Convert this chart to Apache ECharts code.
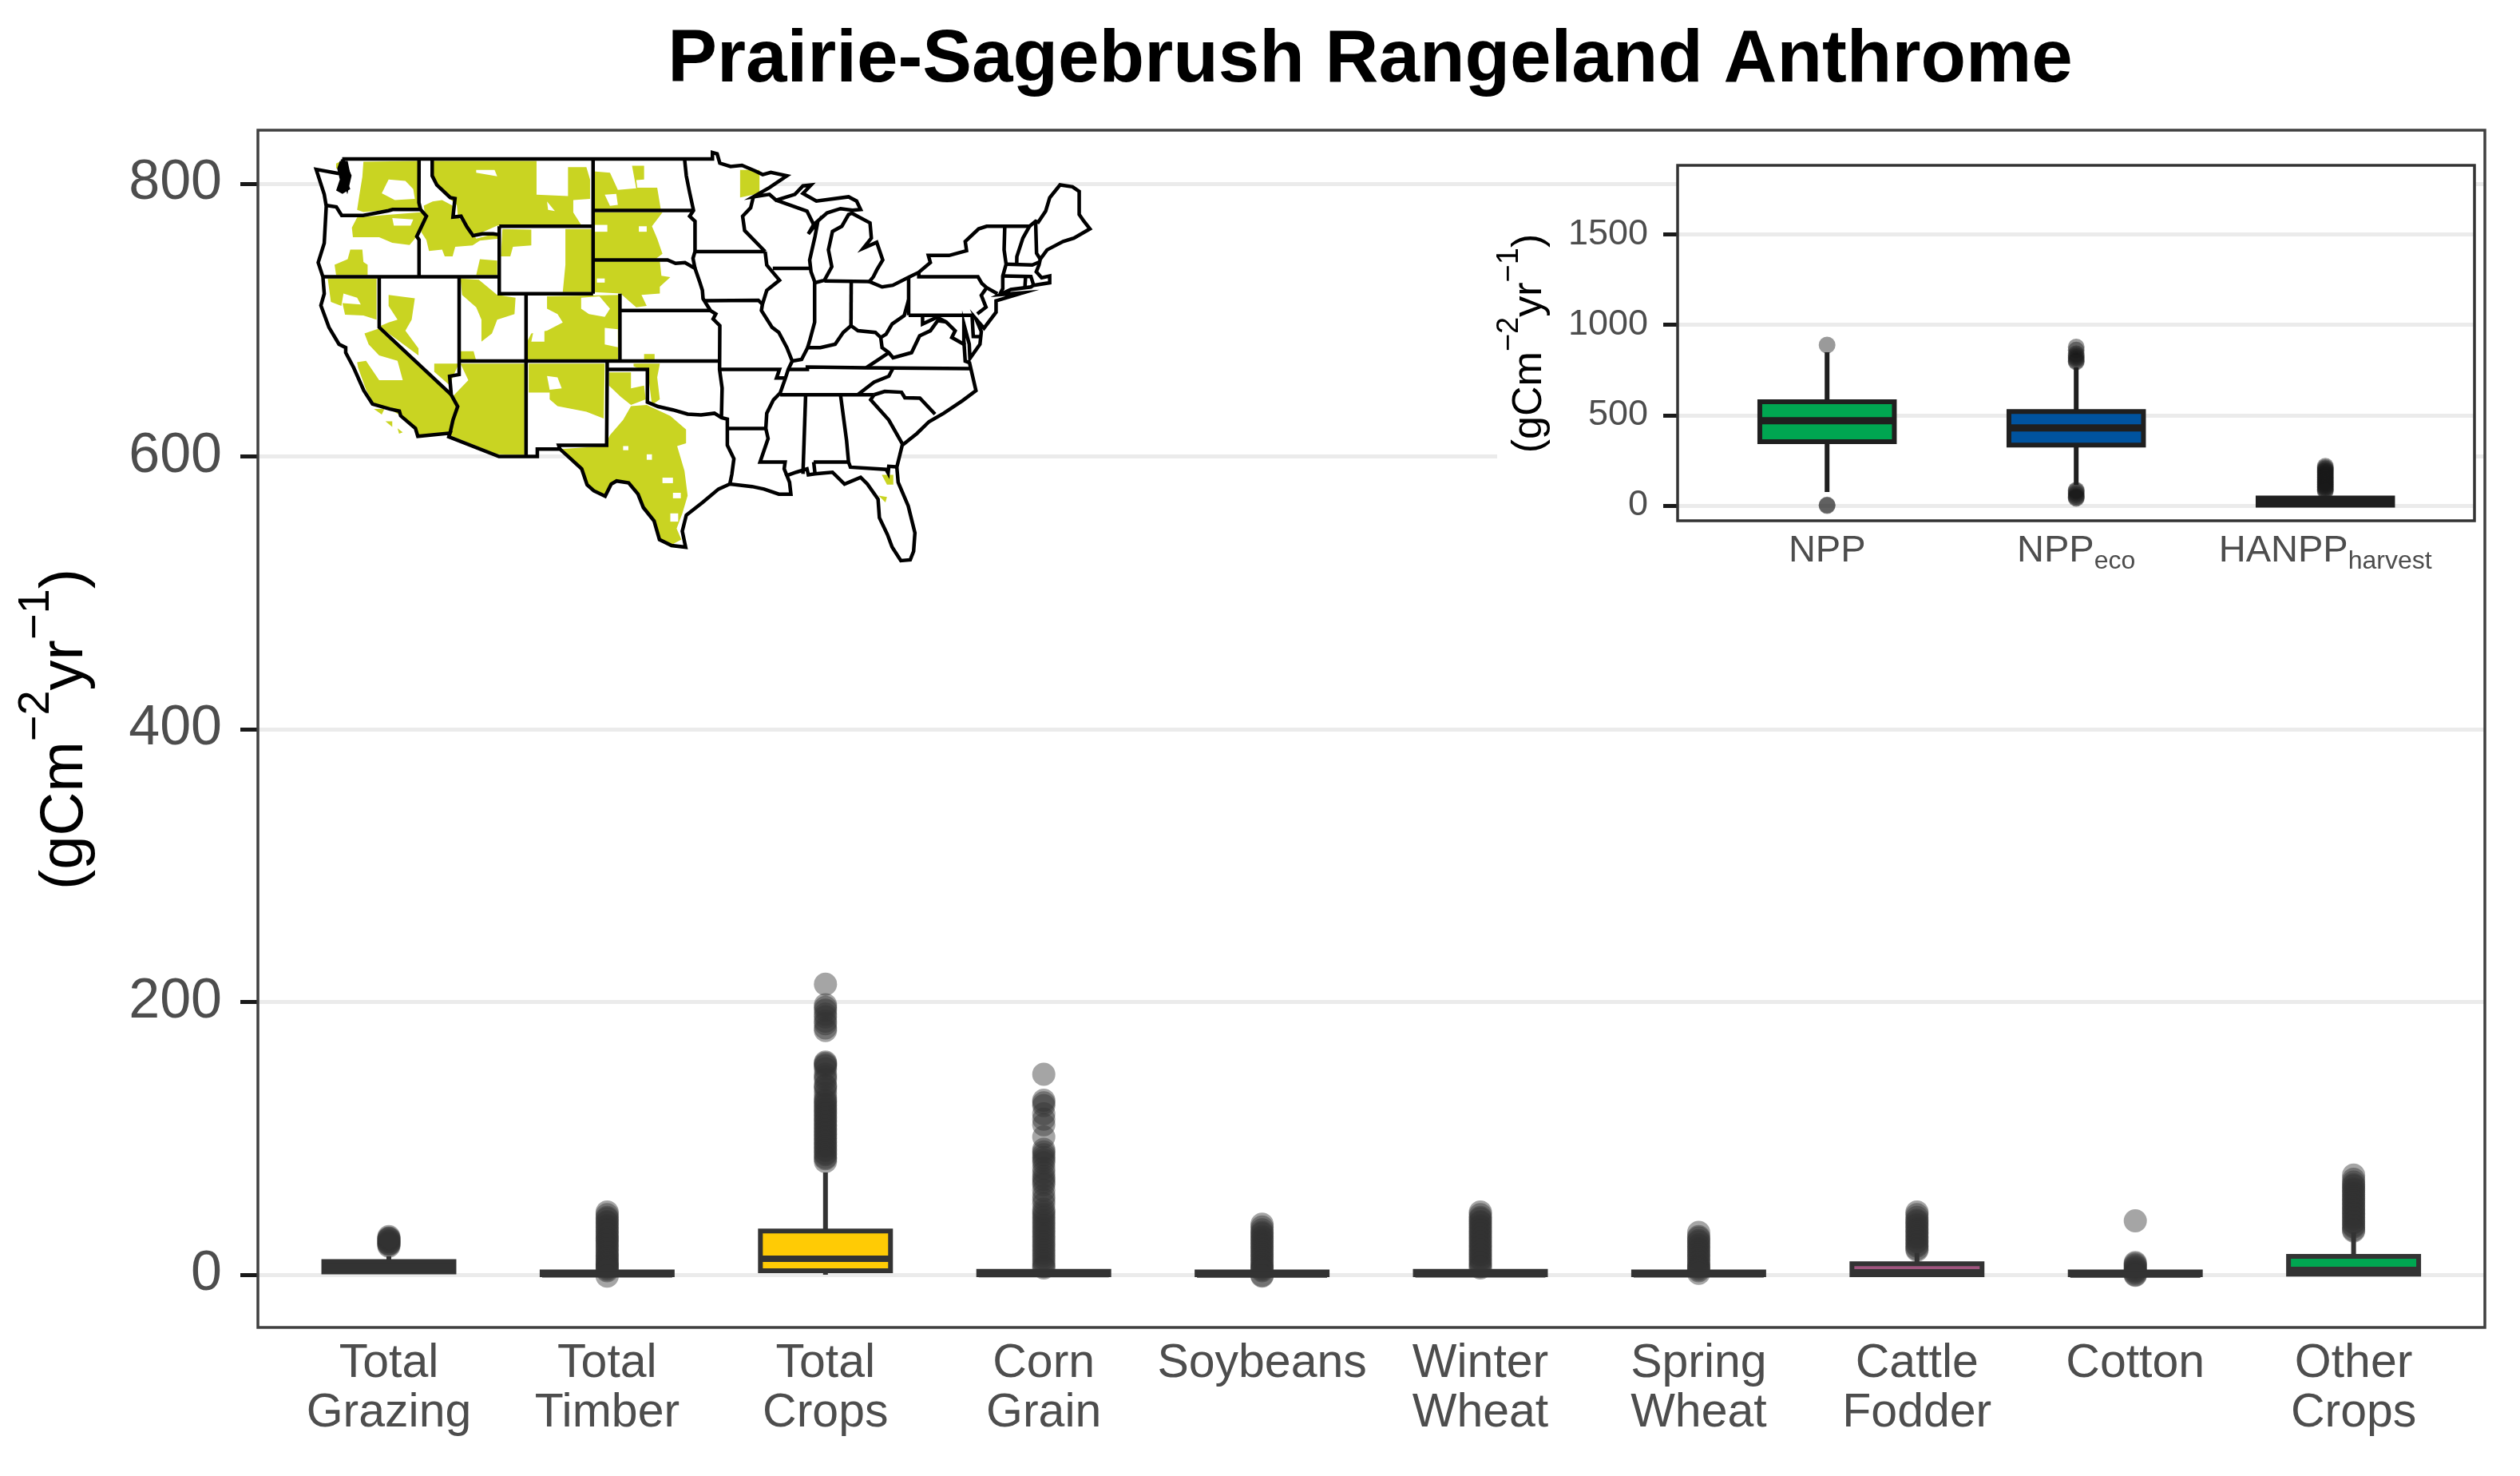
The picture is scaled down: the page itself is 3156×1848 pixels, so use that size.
<!DOCTYPE html>
<html>
<head>
<meta charset="utf-8">
<script src="https://cdn.jsdelivr.net/npm/echarts@6/dist/echarts.min.js"></script>
<style>
	html, body { margin: 0; padding: 0; background: #fff; }
	#chart { width: 3156px; height: 1848px; }
</style>
</head>
<body>
<div id="chart"></div>
<script>
var titleText = 'Prairie-Sagebrush Rangeland Anthrome';
var fontName = '"Liberation Sans", Arial, sans-serif';

// main panel
var categories = ['Total\nGrazing', 'Total\nTimber', 'Total\nCrops', 'Corn\nGrain', 'Soybeans', 'Winter\nWheat', 'Spring\nWheat', 'Cattle\nFodder', 'Cotton', 'Other\nCrops'];
// min, q1, median, q3, max
var boxStats = [
	[2, 2, 6, 9.7, 13.5],
	[0, 0, 0.3, 2, 3],
	[0, 3, 11.7, 32, 75],
	[0, 0, 0.5, 2.5, 4],
	[0, 0, 0.2, 2, 2.5],
	[0, 0, 0.3, 2.5, 3.5],
	[0, 0, 0.3, 2, 4],
	[0, 0, 1.8, 8, 16],
	[0, 0, 0.2, 2, 2.5],
	[0, 0.5, 3.5, 13.4, 31]
];
var boxColors = ['#3d403d', '#333333', '#ffcb05', '#333333', '#333333', '#333333', '#333333', '#a0567f', '#333333', '#00a651'];
var outliers = [
	[21, 22, 22.5, 23, 24, 24.5, 25, 26, 26.5, 27, 28],
	[46, 44, 42, 41, 39, 38, 36, 35, 33, 32, 30, 29, 27, 26, 25, 23, 22, 20, 19, 17, 16, 14, 13, 12, 10, 9, 8, 7, 6, 5, 4, 3, -1],
	[213, 198, 196, 194, 191, 189, 186, 184, 181, 179, 156, 155, 154, 153, 151, 147, 145, 143, 139, 138, 136, 133, 130, 128, 127, 125, 124, 122, 121, 119, 118, 116, 115, 113, 112, 110, 109, 107, 106, 104, 103, 101, 100, 98, 97, 95, 94, 92, 91, 89, 88, 86, 85, 83],
	[147, 128, 126, 124, 118, 114, 110, 101, 92, 90, 88, 86, 84, 82, 78, 75, 72, 70, 68, 66, 62, 58, 55, 52, 48, 46, 44, 42, 40, 38, 36, 34, 32, 30, 28, 26, 24, 22, 20, 18, 16, 14, 12, 10, 8, 6, 5],
	[37, 35, 33, 31, 30, 28, 27, 25, 24, 22, 21, 19, 18, 16, 15, 13, 12, 10, 9, 7, 6, 5, 4, 3, -0.5, -1],
	[46, 44, 42, 41, 39, 38, 36, 35, 33, 32, 30, 29, 27, 26, 24, 23, 21, 20, 18, 17, 15, 14, 12, 11, 9, 8, 6, 5],
	[31, 28, 27, 25, 24, 22, 21, 19, 18, 16, 15, 13, 12, 10, 9, 7, 6, 5, 4, 3, 1],
	[46, 44, 42, 40, 39, 37, 36, 34, 33, 31, 30, 28, 27, 25, 24, 22, 21, 19, 18],
	[39.6, 9, 8, 7, 6, 5, 4, 3, 2, 1, 0, -0.5],
	[73, 70, 68, 66, 65, 63, 62, 60, 59, 57, 56, 54, 53, 51, 50, 48, 47, 45, 44, 42, 41, 39, 38, 36, 35, 33, 32]
];
var yTicksMain = [0, 800, 200];

// inset panel
var insetCategories = ['NPP', 'NPPeco', 'HANPPharvest'];
var insetLabels = ['{m|NPP}', '{m|NPP}{s|eco}', '{m|HANPP}{s|harvest}'];
var insetStats = [
	[75, 353, 469, 574, 848],
	[115, 335, 430, 520, 764],
	[0, 2, 15, 42, 48]
];
var insetColors = ['#00a651', '#00539f', '#222222'];
var insetOutliers = [
	[888, 3, 0],
	[877, 860, 840, 830, 820, 810, 800, 795, 85, 80, 70, 60, 50, 45, 40],
	[218, 210, 203, 196, 190, 183, 177, 170, 164, 157, 151, 144, 138, 131, 125, 118, 112, 105, 99, 92, 86, 80]
];
var yTicksInset = [0, 1500, 500];

// map outline in lon/lat
var landOutline = [[-122.76,49],[-95.15,49],[-95.15,49.38],[-94.8,49.3],[-94.6,48.75],[-93.8,48.55],[-92.95,48.62],[-92,48.3],[-91.4,48.07],[-90.8,48.2],[-89.6,48],[-90.9,47.3],[-92.1,46.75],[-90.9,46.9],[-90.4,46.55],[-89,46.9],[-88.4,47.4],[-87.8,47.45],[-88.4,46.95],[-87.4,46.5],[-85,46.75],[-84.4,46.5],[-84.1,46],[-84.7,45.95],[-85.6,46.05],[-86.6,45.8],[-87.6,45.1],[-88,44.55],[-87.3,45.25],[-87.5,44.4],[-87.9,43],[-87.8,42.3],[-87.5,41.65],[-86.8,41.8],[-86.25,42.6],[-86.5,43.6],[-86.2,44.7],[-85.5,45],[-85,45.7],[-84.75,45.78],[-83.4,45.2],[-83.3,44.3],[-83.9,43.7],[-82.9,44.05],[-82.45,43],[-82.9,42.4],[-83.15,42],[-83.45,41.72],[-82.5,41.4],[-81.7,41.5],[-80.5,41.98],[-79.76,42.27],[-78.9,42.85],[-79.05,43.27],[-77.5,43.27],[-76.2,43.55],[-76.3,44.1],[-75.3,44.85],[-74.7,45],[-71.5,45.01],[-71.05,45.3],[-70.85,45.25],[-70.3,45.9],[-70,46.7],[-69.23,47.46],[-68.3,47.35],[-67.8,47.07],[-67.8,45.7],[-67.45,45.3],[-67,44.85],[-68.2,44.3],[-69,44.1],[-70.2,43.6],[-70.7,43.05],[-70.8,42.7],[-71,42.3],[-70.6,41.95],[-70,42.05],[-70,41.65],[-71.2,41.5],[-71.4,41.4],[-72.9,41.25],[-73.7,40.95],[-72,41.05],[-74,40.58],[-74,39.9],[-74.9,38.95],[-75.5,39.5],[-75.1,38.75],[-75.2,38],[-75.95,37.15],[-76,38],[-76.4,39.2],[-76.4,38.2],[-76.3,37],[-75.98,36.9],[-75.5,35.25],[-76.5,34.65],[-77.9,33.9],[-79,33.4],[-79.9,32.7],[-81,32],[-81.4,30.7],[-81.3,29.8],[-80.55,28.4],[-80.05,26.8],[-80.15,25.7],[-80.4,25.2],[-81.1,25.15],[-81.75,25.95],[-82.1,26.7],[-82.7,27.7],[-82.8,28.8],[-83.6,29.7],[-84.1,30.1],[-85.3,29.7],[-86.2,30.4],[-87.5,30.3],[-88,30.25],[-88.1,30.6],[-88.9,30.4],[-89.6,30.2],[-89.4,29.8],[-89.3,29.1],[-90.2,29.1],[-91.3,29.4],[-92.2,29.55],[-93.85,29.7],[-94.7,29.4],[-95.9,28.6],[-97.1,27.85],[-97.4,26.9],[-97.15,25.95],[-98.2,26.05],[-99.1,26.4],[-99.5,27.5],[-100.3,28.3],[-100.7,29.1],[-101.4,29.77],[-102.3,29.88],[-102.7,29.7],[-103.15,28.98],[-104,29.3],[-104.5,29.65],[-104.9,30.6],[-106,31.4],[-106.53,31.78],[-108.21,31.78],[-108.21,31.33],[-111.07,31.33],[-114.81,32.5],[-114.72,32.72],[-117.12,32.53],[-117.3,33],[-118.4,33.75],[-118.5,34.03],[-119.2,34.15],[-120.5,34.45],[-121.15,35.25],[-121.9,36.6],[-122.5,37.5],[-122.5,37.8],[-123,38],[-123.75,39],[-124.35,40.3],[-124.1,41],[-124.2,42],[-124.55,42.85],[-124.1,44],[-123.95,46.2],[-124.1,46.9],[-124.7,48.38],[-123.1,48.15],[-122.75,48.15],[-122.4,47.3],[-122.2,48],[-122.76,49]];

var stateBorders = [
	[[-124,46.25],[-123.2,46.15],[-122.8,45.65],[-121.2,45.65],[-119.3,45.93],[-119,46],[-116.92,46]],
	[[-117.03,49],[-117.04,46.4],[-116.92,46],[-116.48,45.6],[-116.9,44.9],[-117.2,44.4],[-117.03,44.2],[-117.03,42]],
	[[-124.2,42],[-111.05,42]],
	[[-116.05,49],[-116.05,48],[-115.7,47.45],[-114.7,46.7],[-114.35,46.65],[-114.5,45.55],[-113.9,45.6],[-113.45,44.95],[-113,44.45],[-112.3,44.55],[-111.5,44.55],[-111.05,44.5]],
	[[-111.05,45],[-104.05,45]],
	[[-111.05,45],[-111.05,41],[-104.05,41]],
	[[-104.05,49],[-104.05,41]],
	[[-104.05,45.94],[-96.56,45.94]],
	[[-97.23,49],[-97.1,48],[-96.85,47],[-96.56,45.94],[-96.85,45.6],[-96.45,45.3],[-96.45,43.5],[-96.6,43.1],[-96.45,42.5]],
	[[-104.05,43],[-98.5,43],[-97.9,42.8],[-97.2,42.85],[-96.45,42.5],[-96.1,41.7],[-95.9,41.2],[-95.85,40.7],[-95.3,40],[-94.9,39.8],[-95.1,39.5],[-94.6,39.1],[-94.62,36.5],[-94.43,35.4],[-94.48,33.64]],
	[[-96.45,43.5],[-91.22,43.5]],
	[[-102.05,41],[-102.05,37]],
	[[-102.05,40],[-95.3,40]],
	[[-114.04,37],[-94.62,37]],
	[[-114.04,42],[-114.04,36.2],[-114.75,36.1],[-114.63,35],[-114.15,34.3],[-114.5,33.5],[-114.72,32.72]],
	[[-109.05,41],[-109.05,31.33]],
	[[-120,42],[-120,39],[-114.63,35]],
	[[-103,37],[-103,36.5],[-103.04,32],[-106.62,32],[-106.53,31.78]],
	[[-103,36.5],[-100,36.5],[-100,34.56],[-99.2,34.3],[-98.1,34.1],[-97,33.85],[-96,33.8],[-95,33.9],[-94.48,33.64],[-94.04,33.55],[-94.04,32],[-93.55,31.2],[-93.7,30.3],[-93.85,29.7]],
	[[-94.04,33],[-91.17,33]],
	[[-94.62,36.5],[-90.15,36.5],[-90.37,36],[-89.7,36]],
	[[-95.77,40.58],[-91.73,40.61],[-91.42,40.38]],
	[[-91.22,43.5],[-91.1,42.7],[-90.15,41.8],[-91.1,41.2],[-91.42,40.38],[-91.5,40],[-90.7,39],[-90.2,38.7],[-89.6,37.8],[-89.2,37],[-89.5,36.5],[-89.7,36],[-90.1,35.1],[-90.6,34.7],[-91.1,33.9],[-91.17,33],[-91,32.4],[-91.6,31],[-89.73,31],[-89.8,30.6],[-89.6,30.2]],
	[[-92.1,46.75],[-92.3,46.1],[-92.9,45.6],[-92.75,44.75],[-91.22,43.5]],
	[[-90.65,42.5],[-87.8,42.5]],
	[[-90.4,46.55],[-88.1,45.9],[-87.6,45.1]],
	[[-87.53,41.7],[-87.53,39.3],[-87.9,38.2],[-88.05,37.8]],
	[[-89.2,37],[-88.5,37.1],[-88.05,37.8],[-87.1,37.8],[-86,38],[-85.4,38.7],[-84.82,39.1],[-84.3,38.8],[-83,38.7],[-82.6,38.4],[-82.2,38.6],[-81.75,39.2],[-80.85,39.7],[-80.52,40.64]],
	[[-84.82,39.1],[-84.8,41.73]],
	[[-86.8,41.76],[-83.45,41.72]],
	[[-80.52,39.72],[-80.52,41.98]],
	[[-79.76,42.27],[-79.76,42],[-75.35,42],[-75.05,41.6],[-74.7,41.36],[-73.9,41]],
	[[-74.7,41.36],[-75.1,40.9],[-74.75,40.2],[-75.4,39.8]],
	[[-80.52,39.72],[-75.79,39.72],[-75.7,38.46],[-75.05,38.45]],
	[[-79.48,39.72],[-79.48,39.2],[-78.4,39.6],[-77.72,39.32],[-77.05,38.8],[-77.3,38.4],[-76.3,37.95]],
	[[-77.72,39.32],[-78.35,39.4],[-78.9,38.8],[-79.7,38.5],[-80.3,37.5],[-81.68,37.2],[-82,37.5],[-82.5,37.8],[-82.6,38.4]],
	[[-82,37.5],[-83.68,36.6]],
	[[-75.9,36.55],[-81.68,36.59],[-83.68,36.6],[-88.07,36.65],[-88.07,36.5],[-89.5,36.5]],
	[[-90.1,35],[-83.1,35]],
	[[-81.68,36.59],[-82,36.1],[-83.1,35.75],[-84.32,35]],
	[[-88.2,35],[-88.4,30.3]],
	[[-85.6,35],[-85.15,32.3],[-85,31],[-84.86,30.7],[-82.2,30.57],[-82.05,30.35],[-82,30.75],[-81.45,30.72]],
	[[-87.6,31],[-85,31]],
	[[-87.6,31],[-87.5,30.3]],
	[[-83.1,35],[-83.35,34.7],[-82,33.5],[-81,32.1]],
	[[-83.1,35],[-82.3,35.2],[-81.05,35.15],[-80.8,34.82],[-79.68,34.8],[-78.55,33.85]],
	[[-73.35,45],[-73.4,43.6],[-73.25,42.75],[-73.5,42.05],[-73.5,41.3],[-73.7,41]],
	[[-71.5,45.01],[-72,44.3],[-72.45,43.2],[-72.46,42.73]],
	[[-73.25,42.75],[-71.3,42.7],[-70.8,42.87]],
	[[-73.5,42.05],[-71.4,42.02],[-71.2,41.5]],
	[[-71.8,42.02],[-71.85,41.32]],
	[[-71.05,45.3],[-70.98,43.4],[-70.7,43.05]]
];

var rangelandTrace = [
	[[78,72],[88,62],[88,88],[78,90]],
	[[130,65],[235,62],[235,238],[180,240],[130,248],[118,240],[122,190],[128,120]],
	[[118,268],[180,258],[245,248],[248,290],[235,330],[218,368],[185,360],[160,340],[110,340],[108,305]],
	[[78,478],[75,440],[100,420],[105,385],[128,385],[130,430],[138,440],[138,478]],
	[[245,225],[262,210],[280,205],[300,225],[305,260],[330,300],[345,345],[385,325],[388,345],[352,352],[338,370],[305,375],[300,410],[285,410],[280,385],[255,390],[250,350],[240,320],[248,270]],
	[[352,420],[385,425],[385,478],[345,478]],
	[[262,62],[460,62],[460,185],[520,190],[520,85],[555,85],[562,130],[562,200],[530,205],[530,250],[545,295],[385,298],[345,332],[330,310],[310,262],[308,222],[285,185],[262,120]],
	[[568,100],[600,105],[615,168],[650,162],[642,80],[665,80],[665,130],[650,132],[652,160],[690,160],[697,240],[568,240]],
	[[570,250],[700,250],[680,300],[690,345],[700,400],[685,422],[570,425]],
	[[570,428],[695,428],[698,480],[715,485],[695,520],[695,545],[660,550],[670,590],[650,595],[620,545],[570,540]],
	[[515,310],[565,310],[565,540],[510,540],[515,440]],
	[[395,310],[450,312],[450,370],[415,375],[410,410],[392,410]],
	[[480,555],[620,550],[615,790],[442,790],[442,720],[450,690],[480,680],[510,650],[500,620],[480,600]],
	[[315,490],[350,495],[385,550],[420,560],[418,620],[385,640],[375,690],[355,720],[355,640],[345,595],[318,550]],
	[[315,755],[340,755],[345,790],[315,790]],
	[[178,550],[228,562],[222,640],[210,680],[235,745],[235,770],[160,665],[178,650],[195,640],[178,590]],
	[[62,490],[155,490],[155,640],[130,625],[95,622],[90,580],[125,585],[118,560],[92,545],[88,590],[68,575]],
	[[132,690],[160,672],[230,790],[300,915],[306,960],[296,1048],[235,1062],[226,1033],[200,988],[182,968],[150,945],[135,895],[120,815],[118,795],[135,790],[160,860],[205,860],[195,790],[160,770],[140,730]],
	[[265,800],[312,800],[300,850],[295,880],[265,830]],
	[[315,800],[437,800],[437,1132],[385,1130],[297,1062],[302,960],[300,920],[330,860]],
	[[445,800],[590,800],[588,1000],[555,975],[500,955],[485,930],[485,905],[445,905]],
	[[640,955],[670,950],[715,990],[745,1040],[745,1090],[728,1100],[742,1190],[748,1280],[738,1345],[727,1400],[736,1440],[717,1460],[694,1438],[683,1372],[663,1323],[653,1274],[635,1233],[612,1226],[601,1238],[590,1282],[569,1262],[556,1241],[546,1183],[518,1134],[505,1111],[590,1100],[600,1060],[625,1005]],
	[[598,832],[640,832],[640,890],[665,880],[668,930],[640,950],[620,920],[598,880]],
	[[645,800],[695,800],[690,850],[695,930],[680,950],[672,830],[645,810]],
	[[665,765],[685,765],[685,795],[665,795]],
	[[848,95],[885,95],[885,180],[848,195]],
	[[1118,1205],[1140,1205],[1140,1240],[1128,1240]],
	[[1112,1280],[1128,1285],[1125,1305]],
	[[150,965],[170,965],[165,985]],
	[[172,1010],[185,1010],[185,1030]],
	[[195,1035],[205,1050],[198,1055]]
];
var rangelandGapTrace = [
	[[178,130],[210,135],[225,165],[228,200],[190,205],[165,180]],
	[[185,270],[225,275],[220,298],[188,298]],
	[[345,95],[380,95],[385,118],[345,105]],
	[[480,210],[495,245],[482,240]],
	[[590,185],[612,182],[615,222],[600,226]],
	[[570,295],[595,295],[595,320],[570,320]],
	[[655,300],[670,300],[670,320],[655,320]],
	[[575,490],[590,490],[590,505],[575,505]],
	[[545,560],[580,555],[600,600],[590,630],[560,620],[545,600]],
	[[590,670],[615,675],[615,740],[590,730]],
	[[455,675],[475,675],[475,720],[450,720]],
	[[480,845],[500,850],[508,890],[485,895]],
	[[670,1130],[680,1130],[680,1150],[670,1150]],
	[[625,1100],[635,1100],[635,1115],[625,1115]],
	[[700,1215],[720,1215],[720,1235],[700,1235]],
	[[720,1270],[735,1270],[735,1290],[720,1290]],
	[[715,1345],[730,1345],[730,1375],[715,1375]]
];
var pugetTrace = [[85,62],[100,62],[105,110],[100,140],[105,165],[90,182],[78,170],[85,130],[80,90]];

function tracedToLonLat(ring) {
	return ring.map(function (p) {
		return [-124.7 + (p[0] - 40) / 25.56, 49 - (p[1] - 55) / 61.3];
	});
}

function closeRing(ring) {
	return ring.concat([ring[0]]);
}

var features = [];
var mapRegions = [];
function addFeature(name, ring, color) {
	features.push({
		type: 'Feature',
		properties: { name: name },
		geometry: { type: 'Polygon', coordinates: [ring] }
	});
	mapRegions.push({ name: name, itemStyle: { areaColor: color, borderWidth: 0 } });
}
addFeature('land', landOutline, '#ffffff');
rangelandTrace.forEach(function (r, i) {
	addFeature('range' + i, closeRing(tracedToLonLat(r)), '#c9d422');
});
rangelandGapTrace.forEach(function (r, i) {
	addFeature('gap' + i, closeRing(tracedToLonLat(r)), '#ffffff');
});
addFeature('puget', closeRing(tracedToLonLat(pugetTrace)), '#000000');
echarts.registerMap('usmap', { type: 'FeatureCollection', features: features });

var borderLines = stateBorders.concat([landOutline]).map(function (line) {
	return { coords: line };
});

function boxSeries(stats, fills, xIndex, yIndex, ratio, medianWidth, strokeColor, z) {
	return {
		type: 'custom',
		xAxisIndex: xIndex,
		yAxisIndex: yIndex,
		z: z,
		silent: true,
		clip: false,
		encode: { x: 0, y: [1, 2, 3, 4, 5] },
		data: stats.map(function (s, i) { return [i].concat(s); }),
		renderItem: function (params, api) {
			var i = api.value(0);
			var x = api.coord([i, 0])[0];
			var w = api.size([1, 0])[0] * ratio;
			var yMin = api.coord([i, api.value(1)])[1];
			var yQ1 = api.coord([i, api.value(2)])[1];
			var yMed = api.coord([i, api.value(3)])[1];
			var yQ3 = api.coord([i, api.value(4)])[1];
			var yMax = api.coord([i, api.value(5)])[1];
			var line = { stroke: strokeColor, lineWidth: 6, fill: null };
			return {
				type: 'group',
				children: [
					{ type: 'line', shape: { x1: x, y1: yQ3, x2: x, y2: yMax }, style: line },
					{ type: 'line', shape: { x1: x, y1: yQ1, x2: x, y2: yMin }, style: line },
					{
						type: 'rect',
						shape: { x: x - w / 2, y: yQ3, width: w, height: yQ1 - yQ3 },
						style: { fill: fills[params.dataIndex], stroke: strokeColor, lineWidth: 6 }
					},
					{
						type: 'line',
						shape: { x1: x - w / 2, y1: yMed, x2: x + w / 2, y2: yMed },
						style: { stroke: strokeColor, lineWidth: medianWidth, fill: null }
					}
				]
			};
		}
	};
}

function outlierSeries(lists, xIndex, yIndex, size, color, z) {
	var points = [];
	lists.forEach(function (list, i) {
		list.forEach(function (v) { points.push([i, v]); });
	});
	return {
		type: 'scatter',
		xAxisIndex: xIndex,
		yAxisIndex: yIndex,
		z: z,
		silent: true,
		clip: false,
		symbolSize: size,
		itemStyle: { color: color },
		data: points
	};
}

function unitRich(big, small, color) {
	return {
		m: { fontFamily: fontName, fontSize: big, color: color, lineHeight: big * 1.35, verticalAlign: 'bottom' },
		s: { fontFamily: fontName, fontSize: small, color: color, lineHeight: small * 1.1, verticalAlign: 'top' }
	};
}
var unitText = '{m|(gCm}{s|\u22122}{m|yr}{s|\u22121}{m|)}';

var myChart = echarts.init(document.getElementById('chart'));
var option = {
	backgroundColor: '#ffffff',
	animation: false,
	title: {
		text: titleText,
		left: 1716,
		top: 30,
		textAlign: 'center',
		padding: 0,
		textStyle: { fontFamily: fontName, fontSize: 92.6, fontWeight: 'bold', color: '#000' }
	},
	grid: [
		{ left: 323, top: 230, width: 2789, height: 1366 },
		{ left: 350.3, top: 230, width: 2734, height: 1366 },
		{ left: 2101, top: 293.5, width: 998, height: 339.5 },
		{ left: 2132.2, top: 293.5, width: 936, height: 339.5 }
	],
	xAxis: [
		{ type: 'value', gridIndex: 0, show: false },
		{
			type: 'category', gridIndex: 1, data: categories,
			axisLine: { show: false }, axisTick: { show: false }, splitLine: { show: false },
			axisLabel: { interval: 0, margin: 81, fontFamily: fontName, fontSize: 59, lineHeight: 62, color: '#4d4d4d' }
		},
		{ type: 'value', gridIndex: 2, show: false, z: 4 },
		{
			type: 'category', gridIndex: 3, data: insetCategories, z: 4,
			axisLine: { show: false }, axisTick: { show: false }, splitLine: { show: false },
			axisLabel: {
				interval: 0, margin: 34,
				formatter: function (v, i) { return insetLabels[i]; },
				rich: {
					m: { fontFamily: fontName, fontSize: 47, color: '#4d4d4d', lineHeight: 52, verticalAlign: 'top' },
					s: { fontFamily: fontName, fontSize: 32, color: '#4d4d4d', lineHeight: 32, verticalAlign: 'bottom' }
				}
			}
		}
	],
	yAxis: [
		{
			type: 'value', gridIndex: 0, min: yTicksMain[0], max: yTicksMain[1], interval: yTicksMain[2],
			axisLine: { show: false, onZero: false },
			axisTick: { show: true, length: 22, lineStyle: { color: '#1a1a1a', width: 5 } },
			axisLabel: { margin: 45, padding: [8, 0, 0, 0], fontFamily: fontName, fontSize: 70, color: '#4d4d4d' },
			splitLine: { show: true, lineStyle: { color: '#ebebeb', width: 5 } },
			name: unitText, nameLocation: 'middle', nameRotate: 90, nameGap: 203,
			nameTextStyle: { rich: unitRich(76, 56, '#000') }
		},
		{ type: 'value', gridIndex: 1, min: yTicksMain[0], max: yTicksMain[1], show: false, splitLine: { show: false } },
		{
			type: 'value', gridIndex: 2, min: yTicksInset[0], max: yTicksInset[1], interval: yTicksInset[2], z: 4,
			axisLine: { show: false, onZero: false },
			axisTick: { show: true, length: 18, lineStyle: { color: '#1a1a1a', width: 5 } },
			axisLabel: { margin: 37, padding: [6, 0, 0, 0], fontFamily: fontName, fontSize: 45, color: '#4d4d4d', formatter: function (v) { return String(v); } },
			splitLine: { show: true, lineStyle: { color: '#ebebeb', width: 5 } }
		},
		{ type: 'value', gridIndex: 3, min: yTicksInset[0], max: yTicksInset[1], show: false, splitLine: { show: false } }
	],
	geo: {
		map: 'usmap',
		silent: true,
		z: 2,
		left: 396,
		top: 199,
		width: 969,
		height: 504,
		aspectScale: 0.796,
		boundingCoords: [[-124.7, 49], [-67, 25.1]],
		itemStyle: { borderWidth: 0 },
		regions: mapRegions
	},
	graphic: {
		elements: [
			{ type: 'rect', z: 1, silent: true, shape: { x: 1875, y: 252, width: 1225, height: 470 }, style: { fill: '#fff' } },
			{ type: 'rect', z: 1, silent: true, shape: { x: 2101, y: 207, width: 998, height: 445 }, style: { fill: '#fff' } },
			{ type: 'rect', z: 1, silent: true, shape: { x: 323, y: 163, width: 2789, height: 1499 }, style: { fill: 'none', stroke: '#404040', lineWidth: 3.5 } },
			{ type: 'rect', z: 5, silent: true, shape: { x: 2101, y: 207, width: 998, height: 445 }, style: { fill: 'none', stroke: '#333', lineWidth: 3.5 } },
			{
				type: 'text', z: 5, silent: true, x: 1907, y: 430, rotation: Math.PI / 2,
				style: { text: unitText, rich: unitRich(52, 38, '#222'), align: 'center', verticalAlign: 'middle' }
			}
		]
	},
	series: [
		{
			type: 'lines',
			coordinateSystem: 'geo',
			geoIndex: 0,
			polyline: true,
			silent: true,
			z: 3,
			lineStyle: { color: '#000', width: 4.5, opacity: 1, curveness: 0 },
			data: borderLines
		},
		outlierSeries(outliers, 1, 1, 29, 'rgba(51,51,51,0.55)', 2),
		boxSeries(boxStats, boxColors, 1, 1, 0.596, 8, '#333333', 3),
		outlierSeries(insetOutliers, 3, 3, 21, 'rgba(25,25,25,0.55)', 5),
		boxSeries(insetStats, insetColors, 3, 3, 0.54, 9, '#1f1f1f', 6)
	]
};

if (option && typeof option === 'object') {
	myChart.setOption(option, true);
}
</script>
</body>
</html>
